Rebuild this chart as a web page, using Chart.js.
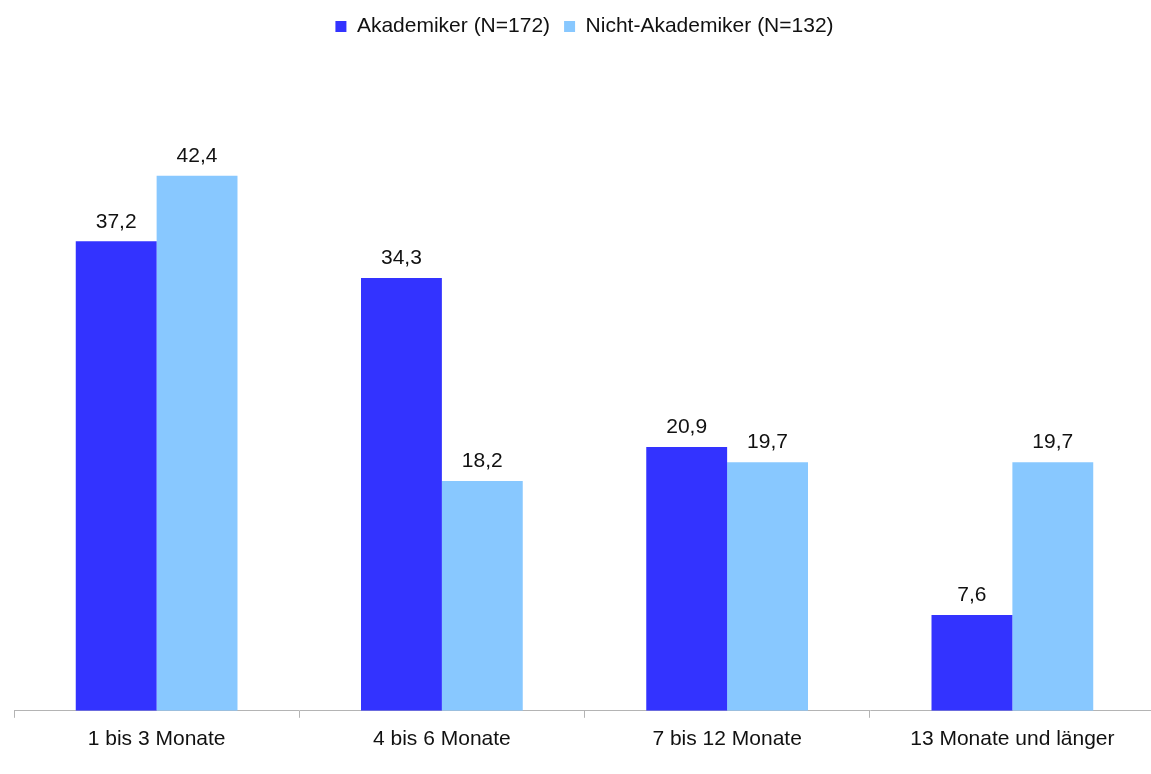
<!DOCTYPE html>
<html>
<head>
<meta charset="utf-8">
<script src="https://cdn.jsdelivr.net/npm/chart.js@4/dist/chart.umd.min.js"></script>
<style>
    html, body { margin: 0; padding: 0; background: #fff; overflow: hidden; }
    #wrap { width: 1155px; height: 774px; }
</style>
</head>
<body>
<div id="wrap"><canvas id="chart"></canvas></div>
<script>
const categories = ['1 bis 3 Monate', '4 bis 6 Monate', '7 bis 12 Monate', '13 Monate und länger'];
const seriesNames = ['Akademiker (N=172)', 'Nicht-Akademiker (N=132)'];
const akademiker = [37.2, 34.3, 20.9, 7.6];
const nichtAkademiker = [42.4, 18.2, 19.7, 19.7];
const colors = ['#3333ff', '#88c8ff'];

const FONT = '"Liberation Sans", Arial, sans-serif';

// value labels above the bars, German decimal comma
const valueLabels = {
    id: 'valueLabels',
    afterDatasetsDraw(chart) {
        const ctx = chart.ctx;
        ctx.save();
        ctx.font = '21px ' + FONT;
        ctx.fillStyle = '#111';
        ctx.textAlign = 'center';
        ctx.textBaseline = 'bottom';
        chart.data.datasets.forEach((ds, i) => {
            chart.getDatasetMeta(i).data.forEach((bar, j) => {
                ctx.fillText(ds.data[j].toFixed(1).replace('.', ','), bar.x, bar.y - 9);
            });
        });
        ctx.restore();
    }
};

new Chart(document.getElementById('chart'), {
    type: 'bar',
    data: {
        labels: categories,
        datasets: [
            { label: seriesNames[0], data: akademiker, backgroundColor: colors[0], borderWidth: 0 },
            { label: seriesNames[1], data: nichtAkademiker, backgroundColor: colors[1], borderWidth: 0 }
        ]
    },
    options: {
        responsive: true,
        maintainAspectRatio: false,
        animation: false,
        datasets: { bar: { categoryPercentage: 0.567, barPercentage: 1.0 } },
        layout: { padding: { left: 14, right: 0, top: 2, bottom: 13 } },
        scales: {
            y: { display: false, min: 0, max: 52.6 },
            x: {
                grid: { offset: true, drawOnChartArea: false, color: '#b4b4b4', tickLength: 7, lineWidth: 1 },
                border: { color: '#b4b4b4' },
                ticks: { color: '#111', font: { family: FONT, size: 21 }, padding: 9 }
            }
        },
        plugins: {
            legend: {
                position: 'top',
                labels: {
                    color: '#111',
                    font: { family: FONT, size: 21 },
                    boxWidth: 11,
                    boxHeight: 11,
                    padding: 14
                }
            },
            tooltip: { enabled: false }
        }
    },
    plugins: [valueLabels]
});
</script>
</body>
</html>
